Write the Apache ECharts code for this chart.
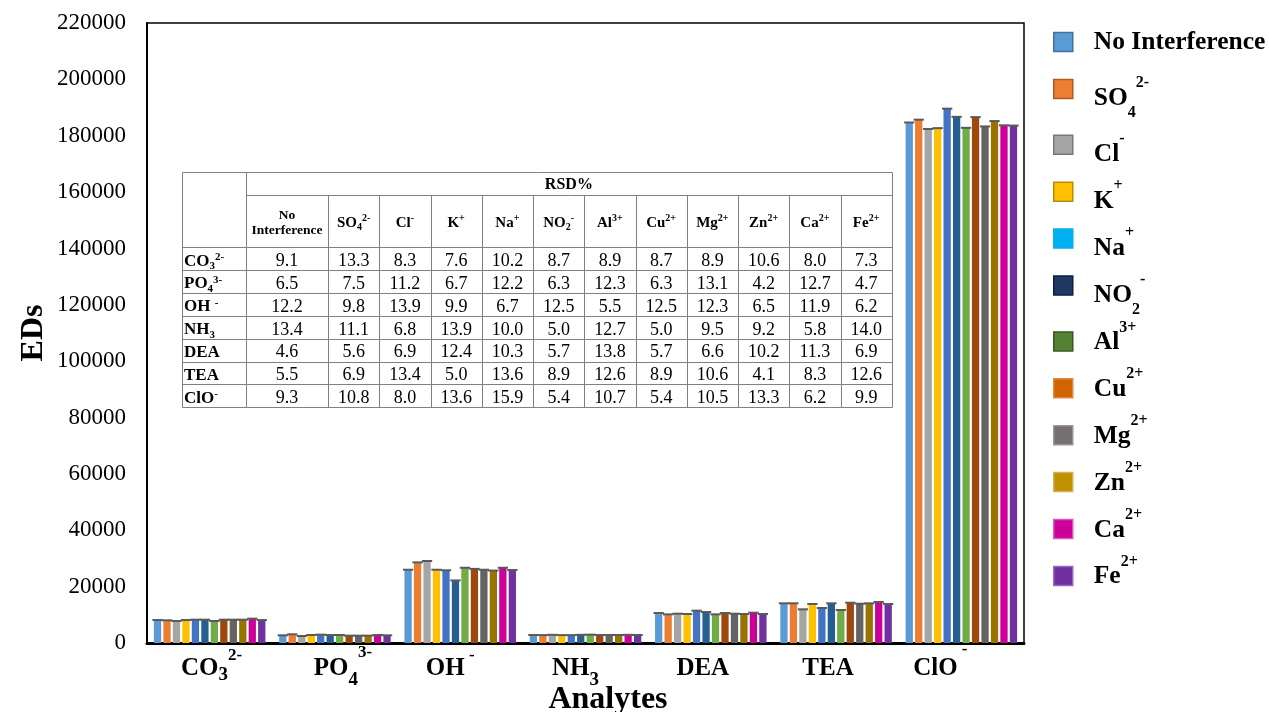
<!DOCTYPE html>
<html>
<head>
<meta charset="utf-8">
<script src="https://cdn.jsdelivr.net/npm/echarts@6/dist/echarts.min.js"></script>
<style>
  html, body { margin: 0; padding: 0; background: #fff; }
  #chart { width: 1269px; height: 712px; }
</style>
</head>
<body>
<div id="chart"></div>
<script>
// ---- data ---------------------------------------------------------------
const analytes = ['CO3', 'PO4', 'OH', 'NH3', 'DEA', 'TEA', 'ClO'];
const interferents = ['No Interference', 'SO4', 'Cl', 'K', 'Na', 'NO2', 'Al', 'Cu', 'Mg', 'Zn', 'Ca', 'Fe'];
const yTicks = [0, 20000, 40000, 60000, 80000, 100000, 120000, 140000, 160000, 180000, 200000, 220000];

// EDs for each interferent, one value per analyte (order of `analytes`)
const edsNoInterference = [8150, 2730, 26000, 2840, 10640, 14080, 184700];
const edsSO4 = [8050, 3080, 28600, 2800, 10170, 14080, 185700];
const edsCl  = [7800, 2490, 29100, 2900, 10400, 11950, 182400];
const edsK   = [8150, 2840, 26000, 2800, 10290, 13840, 182700];
const edsNa  = [8280, 2960, 25800, 2800, 11470, 12420, 189600];
const edsNO2 = [8280, 2840, 22200, 2900, 11000, 14080, 186700];
const edsAl  = [7800, 2840, 26700, 2960, 10170, 11710, 182800];
const edsCu  = [8280, 2610, 26300, 2840, 10640, 14300, 186600];
const edsMg  = [8280, 2610, 26000, 2840, 10400, 13950, 183300];
const edsZn  = [8280, 2610, 25700, 2840, 10290, 14080, 185200];
const edsCa  = [8630, 2840, 26700, 2900, 10760, 14550, 183700];
const edsFe  = [8150, 2730, 25900, 2840, 10290, 13840, 183600];

// RSD% per analyte row, one value per interferent column
const rsdCO3 = ['9.1', '13.3', '8.3', '7.6', '10.2', '8.7', '8.9', '8.7', '8.9', '10.6', '8.0', '7.3'];
const rsdPO4 = ['6.5', '7.5', '11.2', '6.7', '12.2', '6.3', '12.3', '6.3', '13.1', '4.2', '12.7', '4.7'];
const rsdOH  = ['12.2', '9.8', '13.9', '9.9', '6.7', '12.5', '5.5', '12.5', '12.3', '6.5', '11.9', '6.2'];
const rsdNH3 = ['13.4', '11.1', '6.8', '13.9', '10.0', '5.0', '12.7', '5.0', '9.5', '9.2', '5.8', '14.0'];
const rsdDEA = ['4.6', '5.6', '6.9', '12.4', '10.3', '5.7', '13.8', '5.7', '6.6', '10.2', '11.3', '6.9'];
const rsdTEA = ['5.5', '6.9', '13.4', '5.0', '13.6', '8.9', '12.6', '8.9', '10.6', '4.1', '8.3', '12.6'];
const rsdClO = ['9.3', '10.8', '8.0', '13.6', '15.9', '5.4', '10.7', '5.4', '10.5', '13.3', '6.2', '9.9'];

const edsSeries = [edsNoInterference, edsSO4, edsCl, edsK, edsNa, edsNO2, edsAl, edsCu, edsMg, edsZn, edsCa, edsFe];
const rsdRows = [rsdCO3, rsdPO4, rsdOH, rsdNH3, rsdDEA, rsdTEA, rsdClO];

// ---- styling ------------------------------------------------------------
const FONT = '"Liberation Serif", "Times New Roman", serif';
const barColors = ['#5B9BD5', '#ED7D31', '#A5A5A5', '#FFC000', '#4472C4', '#255E91',
                   '#70AD47', '#9E480E', '#636363', '#997300', '#CC0099', '#7030A0'];
const legendSwatch = [
  ['#5B9BD5', '#41719C'], ['#ED7D31', '#AE5A21'], ['#A5A5A5', '#787878'], ['#FFC000', '#BC8C00'],
  ['#00B0F0', '#00B0F0'], ['#203864', '#0E1E40'], ['#548235', '#385723'], ['#D26400', '#E08A40'],
  ['#767171', '#9A9696'], ['#BF9000', '#D4B050'], ['#CC0099', '#DD55BB'], ['#7030A0', '#9A6AC0']
];
const BAR_GAP = 0.30;        // gap between bars, fraction of bar width
const CAT_GAP = 0.11;        // gap between groups, fraction of band

// chemical formula markup (sub/superscripts) for axis labels and legend
const axisMarkup = {
  CO3: '{a|CO}{s1|3}{p1|2-}', PO4: '{a|PO}{s2|4}{p2|3-}', OH: '{a|OH}{p1| -}',
  NH3: '{a|NH}{s2|3}', DEA: '{a|DEA}', TEA: '{a|TEA}', ClO: '{a|ClO}{p3| -}'
};
const axisShift = { CO3: 2, PO4: 8, OH: -10, NH3: -10, DEA: -8, TEA: -8, ClO: -21 };
const legendMarkup = {
  'No Interference': '{n|No Interference}',
  SO4: '{mA|SO}{subA|4}{supA|2-}', Cl: '{mA|Cl}{supA|-}', K: '{mA|K}{supA|+}',
  Na: '{mA|Na}{supA|+}', NO2: '{mA|NO}{subA|2}{supA|-}', Al: '{mB|Al}{supB|3+}',
  Cu: '{mB|Cu}{supB|2+}', Mg: '{mB|Mg}{supB|2+}', Zn: '{mB|Zn}{supB|2+}',
  Ca: '{mB|Ca}{supB|2+}', Fe: '{mB|Fe}{supB|2+}'
};
const headMarkup = {
  'No Interference': '{h2|No}\n{h2|Interference}',
  SO4: '{h|SO}{hs|4}{hp|2-}', Cl: '{h|Cl}{hp|-}', K: '{h|K}{hp|+}', Na: '{h|Na}{hp|+}',
  NO2: '{h|NO}{hs|2}{hp|-}', Al: '{h|Al}{hp|3+}', Cu: '{h|Cu}{hp|2+}', Mg: '{h|Mg}{hp|2+}',
  Zn: '{h|Zn}{hp|2+}', Ca: '{h|Ca}{hp|2+}', Fe: '{h|Fe}{hp|2+}'
};
const rowMarkup = {
  CO3: '{b|CO}{sb|3}{sp|2-}', PO4: '{b|PO}{sb|4}{sp|3-}', OH: '{b|OH }{sp|-}',
  NH3: '{b|NH}{sb|3}', DEA: '{b|DEA}', TEA: '{b|TEA}', ClO: '{b|ClO}{sp|-}'
};

function bold(size, pad) {
  const s = { fontFamily: FONT, fontWeight: 'bold', fontSize: size, color: '#000' };
  if (pad) s.padding = pad;
  return s;
}

// ---- RSD% table (drawn as graphic elements inside the plot) --------------
function buildTable() {
  const x0 = 182, y0 = 172, firstW = 64, noIntW = 82, colW = 51.25;
  const titleH = 22.7, headH = 52.6, rowH = 22.86;
  const cols = [x0, x0 + firstW, x0 + firstW + noIntW];
  for (let i = 1; i < interferents.length; i++) cols.push(cols[2] + i * colW);
  const right = cols[cols.length - 1];
  const yHead = y0 + titleH, yBody = yHead + headH, bottom = yBody + rsdRows.length * rowH;
  const px = v => Math.round(v) + 0.5;
  const lineStyle = { stroke: '#808080', lineWidth: 1 };
  const els = [];
  const line = (x1, y1, x2, y2) => els.push({
    type: 'line', z: 10, silent: true,
    shape: { x1: px(x1), y1: px(y1), x2: px(x2), y2: px(y2) }, style: lineStyle
  });
  els.push({
    type: 'rect', z: 9, silent: true,
    shape: { x: px(x0), y: px(y0), width: Math.round(right - x0), height: Math.round(bottom - y0) },
    style: { fill: '#fff', stroke: '#808080', lineWidth: 1 }
  });
  line(cols[1], y0, cols[1], bottom);
  for (let i = 2; i < cols.length - 1; i++) line(cols[i], yHead, cols[i], bottom);
  line(cols[1], yHead, right, yHead);
  for (let r = 0; r < rsdRows.length; r++) line(x0, yBody + r * rowH, right, yBody + r * rowH);

  const text = (x, y, str, extra) => els.push({
    type: 'text', z: 11, silent: true,
    style: Object.assign({
      x, y, text: str, fill: '#000', fontFamily: FONT, fontSize: 18,
      align: 'center', verticalAlign: 'middle'
    }, extra || {})
  });
  text((cols[1] + right) / 2, y0 + titleH / 2 + 2, 'RSD%', { fontWeight: 'bold', fontSize: 16 });

  const headRich = {
    h: { fontFamily: FONT, fontWeight: 'bold', fontSize: 15, fill: '#000' },
    hs: { fontFamily: FONT, fontWeight: 'bold', fontSize: 10, fill: '#000', padding: [9, 0, 0, 0] },
    hp: { fontFamily: FONT, fontWeight: 'bold', fontSize: 10, fill: '#000', padding: [0, 0, 10, 0] },
    h2: { fontFamily: FONT, fontWeight: 'bold', fontSize: 13.5, fill: '#000' }
  };
  interferents.forEach((name, i) => {
    const cx = (cols[i + 1] + cols[i + 2]) / 2;
    text(cx, (yHead + yBody) / 2 + 2, headMarkup[name],
         { rich: headRich, lineHeight: name === 'No Interference' ? 15 : 30 });
  });

  const rowRich = {
    b: { fontFamily: FONT, fontWeight: 'bold', fontSize: 17, fill: '#000' },
    sb: { fontFamily: FONT, fontWeight: 'bold', fontSize: 11, fill: '#000', padding: [10, 0, 0, 0] },
    sp: { fontFamily: FONT, fontWeight: 'bold', fontSize: 11, fill: '#000', padding: [0, 0, 8, 0] }
  };
  rsdRows.forEach((row, r) => {
    const cy = yBody + (r + 0.5) * rowH + 2.5;
    text(x0 + 2, cy, rowMarkup[analytes[r]], { rich: rowRich, align: 'left', lineHeight: 24 });
    row.forEach((v, c) => text((cols[c + 1] + cols[c + 2]) / 2, cy, v));
  });
  return els;
}

// ---- error-bar caps -------------------------------------------------------
const capData = [];
edsSeries.forEach((vals, s) => vals.forEach((v, c) => capData.push([c, s, v])));

function renderCap(params, api) {
  const c = api.value(0), s = api.value(1), v = api.value(2);
  const pt = api.coord([c, v]);
  const band = api.size([1, 0])[0];
  const n = interferents.length;
  const region = band * (1 - CAT_GAP);
  const bw = region / (n + (n - 1) * BAR_GAP);
  const cx = pt[0] - region / 2 + s * bw * (1 + BAR_GAP) + bw / 2;
  return {
    type: 'line',
    shape: { x1: cx - bw / 2 - 1.5, y1: pt[1], x2: cx + bw / 2 + 1.5, y2: pt[1] },
    style: { stroke: '#5a5a5a', lineWidth: 2 }
  };
}

// ---- chart ----------------------------------------------------------------
const chart = echarts.init(document.getElementById('chart'), null, { renderer: 'canvas' });

const barSeries = interferents.map((name, i) => ({
  name, type: 'bar', data: edsSeries[i],
  barGap: (BAR_GAP * 100) + '%', barCategoryGap: (CAT_GAP * 100) + '%',
  itemStyle: { color: barColors[i] },
  emphasis: { disabled: true }
}));

const option = {
  animation: false,
  backgroundColor: '#fff',
  grid: {
    left: 147, top: 23, right: 245, bottom: 69,
    containLabel: false, outerBoundsMode: 'none',
    show: true, borderColor: '#000', borderWidth: 1.5, backgroundColor: 'transparent'
  },
  legend: {
    orient: 'vertical', left: 1053, top: 19, padding: 0,
    itemWidth: 19, itemHeight: 19, itemGap: 0.9, icon: 'rect',
    selectedMode: false,
    data: interferents.map((name, i) => ({
      name,
      itemStyle: { color: legendSwatch[i][0], borderColor: legendSwatch[i][1], borderWidth: 1.5 }
    })),
    formatter: name => legendMarkup[name],
    textStyle: {
      fontFamily: FONT, fontWeight: 'bold', fontSize: 25.5, color: '#000', lineHeight: 46,
      padding: [0, 0, 0, 16],
      rich: {
        n: bold(25.5),
        mA: bold(25.5, [20, 0, 0, 0]),
        mB: bold(25.5, [2, 0, 0, 0]),
        supA: bold(16, [0, 0, 12, 0]),
        supB: bold(16, [0, 0, 28, 0]),
        subA: bold(16, [48, 0, 0, 0])
      }
    }
  },
  xAxis: {
    type: 'category',
    data: analytes.map(a => {
      const sh = axisShift[a];
      return { value: a, textStyle: { padding: sh >= 0 ? [0, 0, 0, 2 * sh] : [0, -2 * sh, 0, 0] } };
    }),
    name: 'Analytes', nameLocation: 'middle', nameGap: 41, nameMoveOverlap: false,
    nameTextStyle: { fontFamily: FONT, fontWeight: 'bold', fontSize: 32, color: '#000', padding: [0, 0, 0, 45] },
    axisLine: { show: true, lineStyle: { color: '#000', width: 3 } },
    axisTick: { show: false },
    axisLabel: {
      interval: 0, margin: 6, lineHeight: 40,
      formatter: v => axisMarkup[v],
      fontFamily: FONT, fontWeight: 'bold', fontSize: 25, color: '#000',
      rich: {
        a: bold(25),
        s1: bold(19, [13, 0, 0, 0]),
        s2: bold(19, [22, 0, 0, 0]),
        p1: bold(17, [0, 0, 26, 0]),
        p2: bold(17, [0, 0, 32, 0]),
        p3: bold(17, [0, 0, 38, 0])
      }
    },
    splitLine: { show: false }
  },
  yAxis: {
    type: 'value', min: yTicks[0], max: yTicks[yTicks.length - 1], interval: yTicks[1] - yTicks[0],
    name: 'EDs', nameLocation: 'middle', nameGap: 97, nameMoveOverlap: false,
    nameTextStyle: { fontFamily: FONT, fontWeight: 'bold', fontSize: 32, color: '#000' },
    axisLine: { show: true, lineStyle: { color: '#000', width: 2 } },
    axisTick: { show: false },
    axisLabel: { fontFamily: FONT, fontSize: 23, color: '#000', margin: 21, formatter: v => String(v) },
    splitLine: { show: false }
  },
  series: barSeries.concat([{
    name: 'error caps', type: 'custom', silent: true, z: 3,
    encode: { x: 0, y: 2 },
    data: capData,
    renderItem: renderCap
  }]),
  graphic: { elements: buildTable() }
};

chart.setOption(option);
</script>
</body>
</html>
